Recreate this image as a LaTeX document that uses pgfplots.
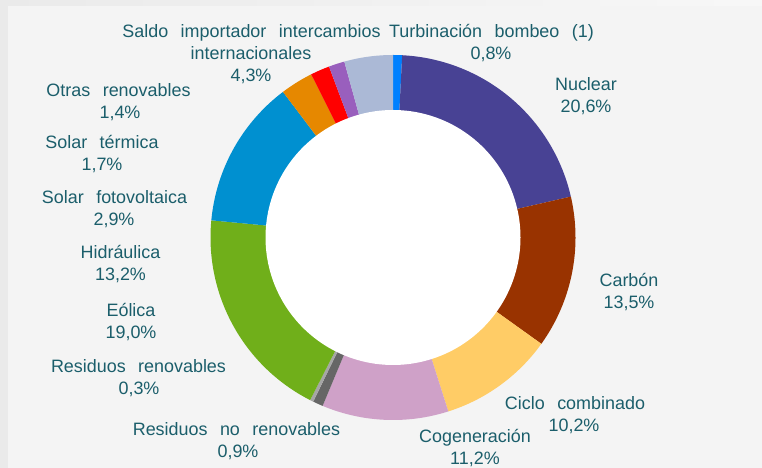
\documentclass[border=0pt]{standalone}
\usepackage{pgfplots}
\pgfplotsset{compat=1.18}
\usepackage{fontspec}
\setmainfont{Liberation Sans}[WordSpace=2.5]
\definecolor{cTurb}{HTML}{0080FF}
\definecolor{cNuc}{HTML}{484294}
\definecolor{cCarb}{HTML}{993300}
\definecolor{cCiclo}{HTML}{FFCC66}
\definecolor{cCog}{HTML}{CFA1C8}
\definecolor{cResNo}{HTML}{666666}
\definecolor{cResRen}{HTML}{A6A6A6}
\definecolor{cEol}{HTML}{70AF1A}
\definecolor{cHid}{HTML}{0090D0}
\definecolor{cSFV}{HTML}{E68800}
\definecolor{cST}{HTML}{FF0000}
\definecolor{cOtr}{HTML}{995FBD}
\definecolor{cSaldo}{HTML}{ABB9D6}
\definecolor{txt}{HTML}{1B5E6B}
\definecolor{bgc}{HTML}{F4F4F4}
\definecolor{edgec}{HTML}{EAEAEA}
% donut geometry (pixel units): centre, outer and inner radius
\def\cx{393}\def\cy{230.5}\def\Ro{182.5}\def\Ri{127.5}
\xdef\cum{0}
\newcommand\slice[2]{% share in %, colour
  \pgfmathsetmacro\angA{90-3.6*\cum}%
  \pgfmathsetmacro\cumnew{\cum+#1}%
  \pgfmathsetmacro\angB{90-3.6*\cumnew}%
  \xdef\cum{\cumnew}%
  \edef\tmp{\noexpand\addplot[fill=#2,draw=none,domain=\angB:\angA,samples=90]
    ({\cx+\Ro*cos(x)},{\cy+\Ro*sin(x)}) -- (axis cs:\cx,\cy) -- cycle;}%
  \tmp
}
\begin{document}
\begin{tikzpicture}[lbl/.style={anchor=base, inner sep=0pt, text=txt, font=\fontsize{18}{22}\selectfont}]
\fill[bgc] (0,0) rectangle (762bp,468bp);
\fill[edgec] (0,0) rectangle (8bp,468bp);
\shade[left color=edgec, right color=white!97!black] (0,462bp) rectangle (762bp,468bp);
\begin{axis}[at={(0,0)}, anchor=south west, scale only axis,
  width=762bp, height=468bp, xmin=0, xmax=762, ymin=0, ymax=468,
  hide axis, clip=false]
\slice{0.8}{cTurb}
\slice{20.6}{cNuc}
\slice{13.5}{cCarb}
\slice{10.2}{cCiclo}
\slice{11.2}{cCog}
\slice{0.9}{cResNo}
\slice{0.3}{cResRen}
\slice{19.0}{cEol}
\slice{13.2}{cHid}
\slice{2.9}{cSFV}
\slice{1.7}{cST}
\slice{1.4}{cOtr}
\slice{4.3}{cSaldo}
\addplot[fill=white, draw=none, domain=0:360, samples=181]
  ({\cx+\Ri*cos(x)},{\cy+\Ri*sin(x)}) -- cycle;
% labels
\node[lbl] at (251.5,430) {Saldo importador intercambios};
\node[lbl] at (251,408) {internacionales};
\node[lbl] at (251,386) {4,3\%};
\node[lbl] at (491.5,430) {Turbinación bombeo (1)};
\node[lbl] at (491,408) {0,8\%};
\node[lbl] at (586,377) {Nuclear};
\node[lbl] at (586,355) {20,6\%};
\node[lbl] at (629,181) {Carbón};
\node[lbl] at (629,159) {13,5\%};
\node[lbl] at (575,58) {Ciclo combinado};
\node[lbl] at (574,36) {10,2\%};
\node[lbl] at (475,25) {Cogeneración};
\node[lbl] at (475,3) {11,2\%};
\node[lbl] at (236.5,32) {Residuos no renovables};
\node[lbl] at (238,10) {0,9\%};
\node[lbl] at (138.5,95) {Residuos renovables};
\node[lbl] at (139,73) {0,3\%};
\node[lbl] at (131,151) {Eólica};
\node[lbl] at (131,129) {19,0\%};
\node[lbl] at (120.5,209) {Hidráulica};
\node[lbl] at (120.5,187) {13,2\%};
\node[lbl] at (114.5,264) {Solar fotovoltaica};
\node[lbl] at (114,242) {2,9\%};
\node[lbl] at (102,319) {Solar térmica};
\node[lbl] at (102,297) {1,7\%};
\node[lbl] at (118.5,371) {Otras renovables};
\node[lbl] at (120,349) {1,4\%};
\end{axis}
\pgfresetboundingbox
\useasboundingbox (0,0) rectangle (762bp,468bp);
\end{tikzpicture}
\end{document}
